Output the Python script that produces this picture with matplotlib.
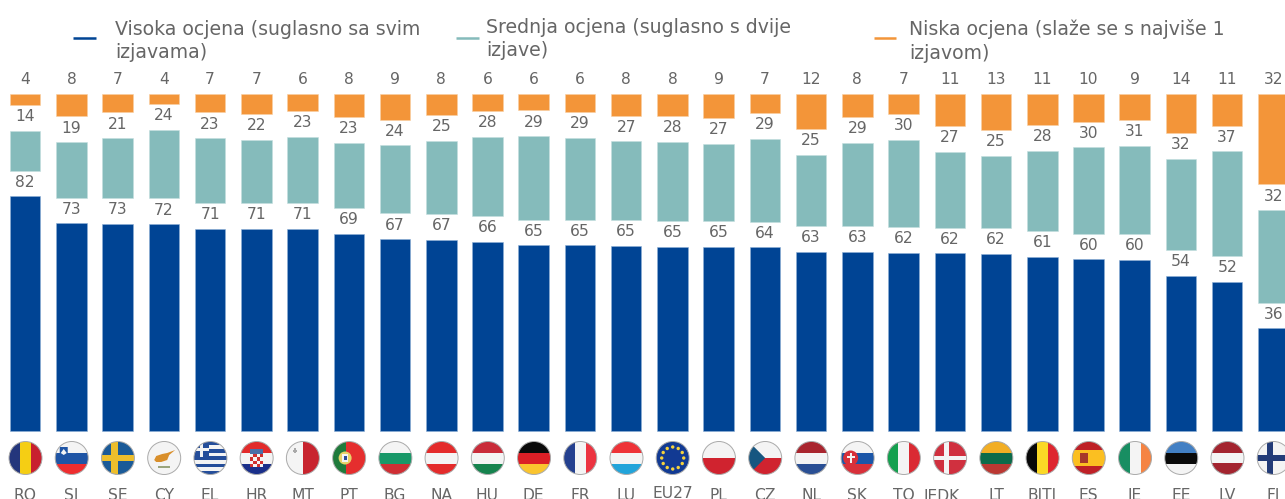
import numpy as np
import matplotlib
matplotlib.use("Agg")
import matplotlib.pyplot as plt
from matplotlib.patches import Circle, Rectangle, Polygon

# Data
countries = ["RO", "SI", "SE", "CY", "EL", "HR", "MT", "PT", "BG", "NA", "HU", "DE", "FR", "LU",
             "EU27", "PL", "CZ", "NL", "SK", "TO", "JEDK", "LT", "BITI", "ES", "IE", "EE", "LV", "FI"]
high = [82.0, 72.6, 72.5, 72.3, 70.7, 70.7, 70.7, 68.9, 67.1, 66.8, 66.1, 64.9, 64.9, 64.7,
        64.5, 64.5, 64.2, 62.7, 62.6, 62.3, 62.1, 61.9, 60.9, 60.0, 59.8, 54.3, 52.1, 35.9]
mid = [13.9, 19.4, 20.9, 24.0, 22.7, 22.2, 23.1, 22.8, 23.8, 25.6, 27.7, 29.2, 28.6, 27.6,
       27.7, 26.9, 29.0, 24.8, 29.1, 30.5, 26.6, 25.3, 28.0, 30.2, 31.0, 31.9, 36.7, 32.3]
low = [4.1, 8.0, 6.6, 3.7, 6.6, 7.1, 6.2, 8.3, 9.1, 7.6, 6.2, 5.9, 6.5, 7.7,
       7.8, 8.6, 6.8, 12.5, 8.3, 7.2, 11.3, 12.8, 11.1, 9.8, 9.2, 13.8, 11.2, 31.8]
high_labels = [82, 73, 73, 72, 71, 71, 71, 69, 67, 67, 66, 65, 65, 65,
               65, 65, 64, 63, 63, 62, 62, 62, 61, 60, 60, 54, 52, 36]
mid_labels = [14, 19, 21, 24, 23, 22, 23, 23, 24, 25, 28, 29, 29, 27,
              28, 27, 29, 25, 29, 30, 27, 25, 28, 30, 31, 32, 37, 32]
low_labels = [4, 8, 7, 4, 7, 7, 6, 8, 9, 8, 6, 6, 6, 8,
              8, 9, 7, 12, 8, 7, 11, 13, 11, 10, 9, 14, 11, 32]
legend_labels = ["Visoka ocjena (suglasno sa svim\nizjavama)",
                 "Srednja ocjena (suglasno s dvije\nizjave)",
                 "Niska ocjena (slaže se s najviše 1\nizjavom)"]

BLUE = "#004494"
TEAL = "#85BBBB"
ORANGE = "#F39539"
GREY = "#666666"
GAP = 9  # white space between the stacked segments, same units as the values

W, H = 1285, 499
fig = plt.figure(figsize=(W / 100, H / 100), dpi=100)
plt.rcParams["font.family"] = ["DejaVu Sans"]

# Bars: 46.23 px per category, 2.86 px per unit, baseline at y=431 px
ax = fig.add_axes([0, 0, 1, 1])
ax.set_xlim(-25.2 / 46.23, (W - 25.2) / 46.23)
ax.set_ylim(-(H - 431) / 2.86, 431 / 2.86)
ax.axis("off")

x = np.arange(len(countries))
high = np.array(high)
mid = np.array(mid)
low = np.array(low)
bar_w = 0.66
mid_bottom = high + GAP
low_bottom = mid_bottom + mid + GAP
ax.bar(x, high, bar_w, color=BLUE, edgecolor="#8FB0D6", linewidth=0.4)
ax.bar(x, mid, bar_w, bottom=mid_bottom, color=TEAL, edgecolor="#C4DEDE", linewidth=0.4)
ax.bar(x, low, bar_w, bottom=low_bottom, color=ORANGE, edgecolor="#F9CFA3", linewidth=0.4)

for i in x:
    for top, val in [(high[i], high_labels[i]),
                     (mid_bottom[i] + mid[i], mid_labels[i]),
                     (low_bottom[i] + low[i], low_labels[i])]:
        ax.annotate(str(val), (i, top), xytext=(0, 4.7), textcoords="offset points",
                    ha="center", va="bottom", fontsize=11.2, color=GREY)


# Flags are drawn in pixel coordinates, each one clipped to a circle
fx = fig.add_axes([0, 0, 1, 1], facecolor="none")
fx.set_xlim(0, W)
fx.set_ylim(H, 0)
fx.axis("off")
R = 16.5
CY_F = 458


def flag(i, shapes, bg="#F4F4F4"):
    cx = 25.5 + i * 46.23
    clip = Circle((cx, CY_F), R, transform=fx.transData)
    fx.add_patch(Circle((cx, CY_F), R, color=bg, lw=0))
    for s in shapes:
        if s[0] == "r":  # rectangle given relative to the centre
            p = Rectangle((cx + s[1], CY_F + s[2]), s[3], s[4], color=s[5], lw=0)
        elif s[0] == "c":
            p = Circle((cx + s[1], CY_F + s[2]), s[3], color=s[4], lw=0)
        else:
            p = Polygon([(cx + a, CY_F + b) for a, b in s[1]], color=s[2], lw=0)
        fx.add_patch(p)
        p.set_clip_path(clip)
    fx.add_patch(Circle((cx, CY_F), R, fill=False, ec="#AAAAAA", lw=0.7))


def hstripes(cols):
    h = 2 * R / len(cols)
    return [("r", -R, -R + k * h, 2 * R, h, c) for k, c in enumerate(cols)]


def vstripes(cols):
    w = 2 * R / len(cols)
    return [("r", -R + k * w, -R, w, 2 * R, c) for k, c in enumerate(cols)]


def nordic(back, cross, t=6.5):
    return [("r", -R, -R, 2 * R, 2 * R, back),
            ("r", -3.7 - t / 2, -R, t, 2 * R, cross),
            ("r", -R, -t / 2, 2 * R, t, cross)]


flag(0, vstripes(["#24367C", "#F5CE14", "#C8202F"]))
flag(1, hstripes(["#F4F4F4", "#1F55A5", "#EE2D2F"]) +
     [("p", [(-12, -11), (-4, -11), (-4, -4), (-8, -1), (-12, -4)], "#1F55A5"),
      ("p", [(-11, -5), (-8, -9), (-5, -5), (-8, -3)], "#F4F4F4")])
flag(2, nordic("#1A5A98", "#EDBE2C"))
flag(3, [("p", [(-10, 2), (-8, -2), (-2, -4), (3, -5), (11, -8), (5, -3), (3, 2), (-3, 4), (-8, 4)], "#D98F2B"),
         ("r", -6, 8, 12, 2, "#9AA57E")])
flag(4, hstripes(["#254E9A", "#F4F4F4", "#254E9A", "#F4F4F4", "#254E9A", "#F4F4F4", "#254E9A", "#F4F4F4", "#254E9A"]) +
     [("r", -R, -R, 15.5, 15.5, "#254E9A"), ("r", -R, -10.5, 15.5, 3.5, "#F4F4F4"), ("r", -10.5, -R, 3.5, 15.5, "#F4F4F4")])
hr_shapes = hstripes(["#E22B2B", "#F4F4F4", "#1A2F8A"]) + [("r", -6.5, -4, 13, 13, "#D03030"), ("r", -6.5, -9, 13, 5, "#4A6FA8")]
for row in range(4):
    for col in range(4):
        if (row + col) % 2 == 0:
            hr_shapes.append(("r", -6.5 + col * 3.25, -4 + row * 3.25, 3.25, 3.25, "#F4F4F4"))
flag(5, hr_shapes)
flag(6, vstripes(["#F4F4F4", "#C8242F"]) + [("r", -10, -8, 4, 1.5, "#A9A9A9"), ("r", -8.8, -10, 1.5, 5, "#A9A9A9")])
flag(7, [("r", -R, -R, 13, 2 * R, "#1F7A3B"), ("r", -3.5, -R, 2 * R, 2 * R, "#E52E2E"),
         ("c", -4, 0, 6.5, "#E8D36A"), ("r", -7, -4, 6, 7.5, "#F4F4F4"), ("r", -5.5, -2, 3, 4, "#2D4E9B")])
flag(8, hstripes(["#F4F4F4", "#189868", "#CF2E34"]))
flag(9, hstripes(["#E42B2B", "#F4F4F4", "#E42B2B"]))
flag(10, hstripes(["#C92C3A", "#F4F4F4", "#16834E"]))
flag(11, hstripes(["#0A0A0A", "#DB1F26", "#FAC42E"]))
flag(12, vstripes(["#24408F", "#F4F4F4", "#EC3340"]))
flag(13, hstripes(["#EE3338", "#F4F4F4", "#22A4DA"]))
eu_shapes = [("r", -R, -R, 2 * R, 2 * R, "#123A93")]
for k in range(12):
    a = k * np.pi / 6
    eu_shapes.append(("c", 11 * np.cos(a), 11 * np.sin(a), 1.7, "#F6D23C"))
flag(14, eu_shapes)
flag(15, hstripes(["#F4F4F4", "#D0232F"]))
flag(16, hstripes(["#F4F4F4", "#D0232F"]) + [("p", [(-R, -R), (0, 0), (-R, R)], "#165680")])
flag(17, hstripes(["#A9252E", "#F4F4F4", "#2A4F94"]))
flag(18, hstripes(["#F4F4F4", "#1B56A8", "#D8303A"]) +
     [("c", -7, 0, 7.5, "#D8303A"), ("r", -8, -5, 2, 10, "#F4F4F4"), ("r", -11, -2, 8, 1.8, "#F4F4F4")])
flag(19, vstripes(["#14A04F", "#F4F4F4", "#DA2A33"]))
flag(20, nordic("#D0303F", "#F4F4F4", 4.5))
flag(21, hstripes(["#F2AE24", "#0C6B4A", "#BB3833"]))
flag(22, vstripes(["#080808", "#FBD926", "#DE2630"]))
flag(23, hstripes(["#BE2026", "#FBBF21", "#FBBF21", "#BE2026"]) + [("r", -9, -5, 8, 10, "#A6382A")])
flag(24, vstripes(["#188E62", "#F4F4F4", "#F58443"]))
flag(25, hstripes(["#4380C4", "#0A0A0A", "#F4F4F4"]))
flag(26, [("r", -R, -R, 2 * R, 11.5, "#A3242F"), ("r", -R, -4.5, 2 * R, 9.5, "#F4F4F4"), ("r", -R, 5, 2 * R, 12, "#A3242F")])
flag(27, nordic("#F4F4F4", "#233C78"))
fx.set_xlim(0, W)
fx.set_ylim(H, 0)

# Country codes run off the bottom edge in the original
for i, name in enumerate(countries):
    y_txt = 497.5 if name == "EU27" else 500.5
    xpos = 25.2 + i * 46.23
    if name == "JEDK":
        xpos -= 8
    fx.text(xpos, y_txt, name, ha="center", va="baseline", fontsize=11.2, color=GREY)

# Legend, built by hand so the three entries sit where they do in the original
legend_x = [(73, 96, 115, 35, 58), (456, 478.5, 486, 33, 56), (874, 896, 909, 35, 58.5)]
for (x0, x1, xt, y1, y2), label, col in zip(legend_x, legend_labels, [BLUE, TEAL, ORANGE]):
    fx.plot([x0, x1], [38, 38], color=col, lw=1.8, solid_capstyle="butt")
    fx.text(xt, y1, label.split("\n")[0], fontsize=13.6, color=GREY, va="baseline")
    fx.text(xt, y2, label.split("\n")[1], fontsize=13.6, color=GREY, va="baseline")

fig.savefig("out.png", dpi=100, facecolor="white")
